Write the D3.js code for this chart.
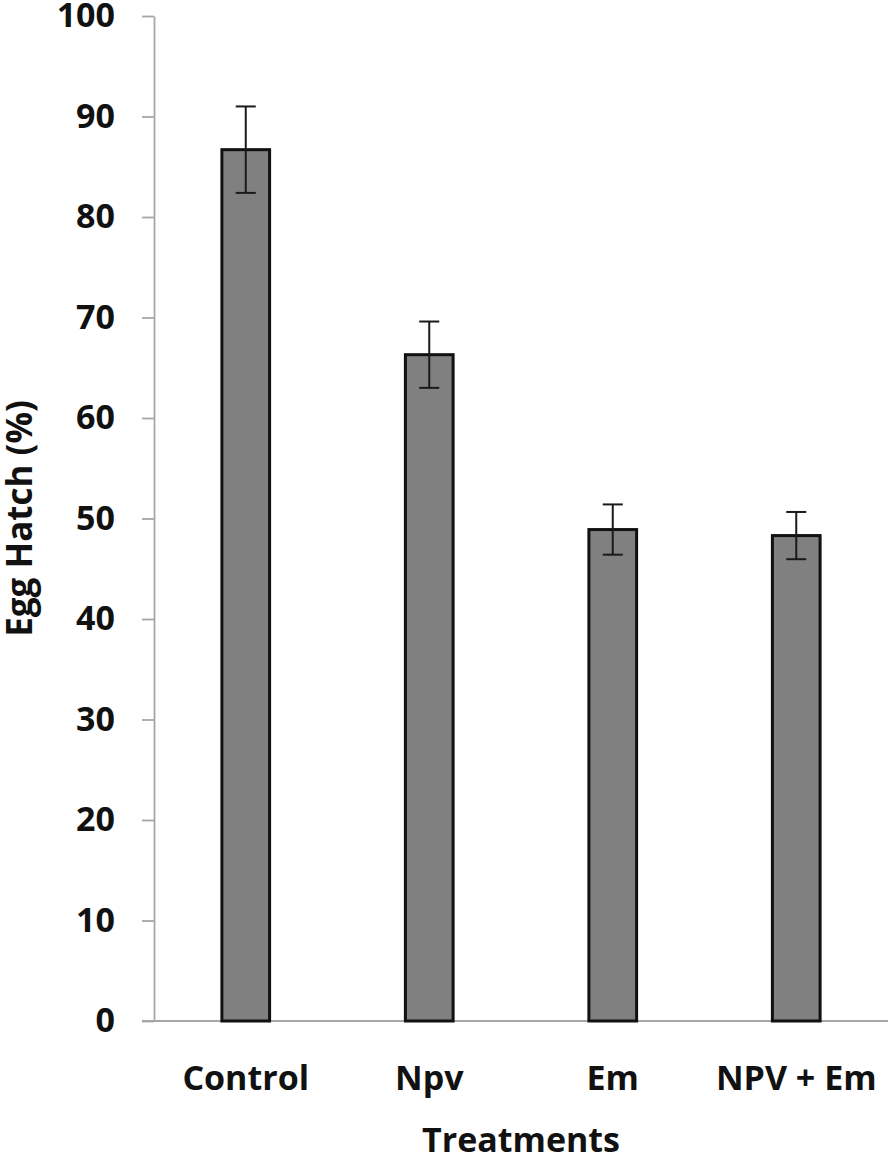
<!DOCTYPE html>
<html>
<head>
    <meta charset="utf-8" />
    <title>Egg hatch</title>
    <script src="https://cdn.jsdelivr.net/npm/d3@7"></script>
    <style>
        body { margin: 0; background: #fff; }
        text { font-family: "Open Sans", sans-serif; font-weight: bold; fill: #111; }
    </style>
</head>
<body>
    <svg width="894" height="1160"></svg>
    <script>

        var categories = ["Control", "Npv", "Em", "NPV + Em"];
        var means = [86.7, 66.3, 48.9, 48.3];
        var errors = [4.3, 3.3, 2.5, 2.35];
        var yTicks = [0, 10, 20, 30, 40, 50, 60, 70, 80, 90, 100];

        var svg = d3.select("svg");

        var plotLeft = 154, plotRight = 888, plotTop = 16, plotBottom = 1021;

        var x = d3.scaleBand()
            .domain(categories)
            .range([plotLeft, plotRight])
            .paddingInner(0.74)
            .paddingOuter(0.37);

        var y = d3.scaleLinear()
            .domain([0, 100])
            .range([plotBottom, plotTop]);

        var data = categories.map(function (c, i) {
            return { name: c, value: means[i], err: errors[i] };
        });

        // y axis
        var yAxis = svg.append("g")
            .attr("transform", "translate(" + plotLeft + ",0)")
            .call(d3.axisLeft(y).tickValues(yTicks).tickSize(12).tickSizeOuter(0).tickPadding(27));

        yAxis.select(".domain").attr("stroke", "#a6a6a6").attr("stroke-width", 1.8);
        yAxis.selectAll(".tick line").attr("stroke", "#a6a6a6").attr("stroke-width", 1.8);
        yAxis.selectAll(".tick text")
            .attr("font-size", 34)
            .attr("font-family", "Open Sans")
            .attr("font-weight", "bold")
            .attr("fill", "#111");

        // x baseline
        svg.append("line")
            .attr("x1", plotLeft - 12)
            .attr("x2", plotRight)
            .attr("y1", y(0))
            .attr("y2", y(0))
            .attr("stroke", "#a6a6a6")
            .attr("stroke-width", 1.8);

        // bars
        svg.append("g")
            .selectAll("rect")
            .data(data)
            .enter()
            .append("rect")
            .attr("x", function (d) { return x(d.name); })
            .attr("y", function (d) { return y(d.value); })
            .attr("width", x.bandwidth())
            .attr("height", function (d) { return y(0) - y(d.value); })
            .attr("fill", "#808080")
            .attr("stroke", "#111")
            .attr("stroke-width", 3);

        // error bars
        var eb = svg.append("g")
            .selectAll("g")
            .data(data)
            .enter()
            .append("g")
            .attr("stroke", "#1a1a1a")
            .attr("stroke-width", 2);

        eb.append("line")
            .attr("x1", function (d) { return x(d.name) + x.bandwidth() / 2; })
            .attr("x2", function (d) { return x(d.name) + x.bandwidth() / 2; })
            .attr("y1", function (d) { return y(d.value + d.err); })
            .attr("y2", function (d) { return y(d.value - d.err); });

        eb.append("line")
            .attr("x1", function (d) { return x(d.name) + x.bandwidth() / 2 - 10; })
            .attr("x2", function (d) { return x(d.name) + x.bandwidth() / 2 + 10; })
            .attr("y1", function (d) { return y(d.value + d.err); })
            .attr("y2", function (d) { return y(d.value + d.err); });

        eb.append("line")
            .attr("x1", function (d) { return x(d.name) + x.bandwidth() / 2 - 10; })
            .attr("x2", function (d) { return x(d.name) + x.bandwidth() / 2 + 10; })
            .attr("y1", function (d) { return y(d.value - d.err); })
            .attr("y2", function (d) { return y(d.value - d.err); });

        // category labels
        svg.append("g")
            .selectAll("text")
            .data(categories)
            .enter()
            .append("text")
            .attr("x", function (d) { return x(d) + x.bandwidth() / 2; })
            .attr("y", 1090)
            .attr("text-anchor", "middle")
            .attr("font-size", 34)
            .text(function (d) { return d; });

        // axis titles
        svg.append("text")
            .attr("x", (plotLeft + plotRight) / 2)
            .attr("y", 1152)
            .attr("text-anchor", "middle")
            .attr("font-size", 34)
            .text("Treatments");

        svg.append("text")
            .attr("transform", "translate(32," + (plotTop + plotBottom) / 2 + ") rotate(-90)")
            .attr("text-anchor", "middle")
            .attr("font-size", 35)
            .text("Egg Hatch (%)");

    </script>
</body>
</html>
